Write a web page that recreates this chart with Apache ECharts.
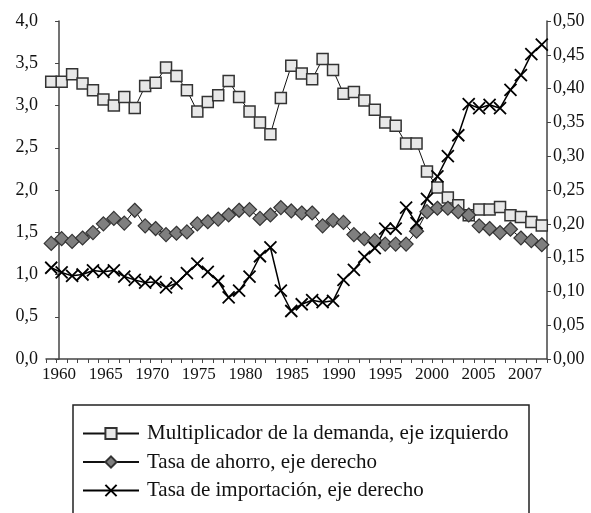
<!DOCTYPE html>
<html>
<head>
<meta charset="utf-8">
<script src="https://cdn.jsdelivr.net/npm/echarts@6/dist/echarts.min.js"></script>
<style>
  html, body { margin: 0; padding: 0; background: #fff; }
  #chart { width: 591px; height: 513px; }
</style>
</head>
<body>
<div id="chart"></div>
<script>
// años 1960 - 2007
var years = [];
for (var y = 1960; y <= 2007; y++) years.push(String(y));

// etiquetas del eje horizontal (tal como aparecen en la figura)
var yearLabels = ['1960', '1965', '1970', '1975', '1980', '1985', '1990', '1995', '2000', '2005', '2007'];

// multiplicador de la demanda, eje izquierdo
var multiplicador = [
  3.28, 3.28, 3.37, 3.26, 3.18, 3.07, 3.00, 3.10, 2.97, 3.23,
  3.27, 3.45, 3.35, 3.18, 2.93, 3.04, 3.12, 3.29, 3.10, 2.93,
  2.80, 2.66, 3.09, 3.47, 3.38, 3.31, 3.55, 3.42, 3.14, 3.16,
  3.06, 2.95, 2.80, 2.76, 2.55, 2.55, 2.22, 2.03, 1.91, 1.82,
  1.70, 1.77, 1.77, 1.80, 1.70, 1.68, 1.62, 1.58
];

// tasa de ahorro, eje derecho
var ahorro = [
  0.171, 0.178, 0.174, 0.179, 0.187, 0.200, 0.208, 0.201, 0.220, 0.197,
  0.193, 0.184, 0.186, 0.188, 0.200, 0.203, 0.207, 0.213, 0.220, 0.221,
  0.208, 0.213, 0.224, 0.219, 0.216, 0.216, 0.197, 0.205, 0.202, 0.184,
  0.178, 0.175, 0.170, 0.170, 0.170, 0.189, 0.218, 0.223, 0.223, 0.218,
  0.213, 0.197, 0.193, 0.187, 0.192, 0.179, 0.175, 0.169
];

// tasa de importación, eje derecho
var importacion = [
  0.135, 0.128, 0.123, 0.125, 0.131, 0.129, 0.131, 0.122, 0.117, 0.113,
  0.114, 0.106, 0.112, 0.127, 0.141, 0.129, 0.115, 0.091, 0.101, 0.122,
  0.152, 0.165, 0.101, 0.071, 0.081, 0.087, 0.084, 0.086, 0.117, 0.132,
  0.151, 0.164, 0.193, 0.193, 0.224, 0.201, 0.237, 0.270, 0.300, 0.331,
  0.377, 0.371, 0.376, 0.371, 0.398, 0.420, 0.451, 0.465
];

var serif = '"Liberation Serif", "DejaVu Serif", serif';
var axisColor = '#444';

function comma(v, d) {
  return v.toFixed(d).replace('.', ',');
}

var chart = echarts.init(document.getElementById('chart'));

var option = {
  backgroundColor: '#fff',
  animation: false,
  grid: { left: 46, right: 44, top: 21, bottom: 154 },
  legend: {
    orient: 'vertical',
    left: 77,
    top: 418,
    itemWidth: 56,
    itemHeight: 14,
    itemGap: 7.5,
    textStyle: { fontFamily: serif, fontSize: 21, color: '#111', lineHeight: 21, padding: [0, 0, 0, 3] },
    data: ['Multiplicador de la demanda, eje izquierdo', 'Tasa de ahorro, eje derecho', 'Tasa de importación, eje derecho']
  },
  graphic: [{
    type: 'rect',
    shape: { x: 73, y: 405, width: 456, height: 160 },
    style: { fill: 'none', stroke: '#222', lineWidth: 1.5 },
    silent: true
  }],
  xAxis: [
    {
      type: 'category',
      data: years,
      boundaryGap: true,
      axisLine: { lineStyle: { color: axisColor, width: 1.5 } },
      axisTick: { show: true, length: 4, interval: 0, lineStyle: { color: axisColor } },
      axisLabel: { show: false },
      splitLine: { show: false }
    },
    {
      // solo para las etiquetas de años
      type: 'value',
      position: 'bottom',
      min: -0.28,
      max: 10.47,
      axisLine: { show: false },
      axisTick: { show: false },
      splitLine: { show: false },
      axisLabel: {
        customValues: yearLabels.map(function (d, i) { return i; }),
        formatter: function (v) { return yearLabels[Math.round(v)]; },
        fontFamily: serif,
        fontSize: 17,
        color: '#111',
        margin: 7
      }
    }
  ],
  yAxis: [
    {
      type: 'value',
      min: 0,
      max: 4,
      interval: 0.5,
      position: 'left',
      axisLine: { show: true, lineStyle: { color: axisColor, width: 1.5 } },
      axisTick: { show: true, length: 4, lineStyle: { color: axisColor } },
      splitLine: { show: false },
      axisLabel: {
        formatter: function (v) { return comma(v, 1); },
        fontFamily: serif, fontSize: 18, color: '#111', margin: 8
      }
    },
    {
      type: 'value',
      min: 0,
      max: 0.5,
      interval: 0.05,
      position: 'right',
      axisLine: { show: true, lineStyle: { color: axisColor, width: 1.5 } },
      axisTick: { show: true, length: 4, lineStyle: { color: axisColor } },
      splitLine: { show: false },
      axisLabel: {
        formatter: function (v) { return comma(v, 2); },
        fontFamily: serif, fontSize: 18, color: '#111', margin: 6
      }
    }
  ],
  series: [
    {
      name: 'Multiplicador de la demanda, eje izquierdo',
      type: 'line',
      xAxisIndex: 0,
      yAxisIndex: 0,
      data: multiplicador,
      showAllSymbol: true,
      symbol: 'rect',
      symbolSize: 11,
      lineStyle: { color: '#111', width: 1 },
      itemStyle: { color: '#e8e8e8', borderColor: '#333', borderWidth: 1.5 }
    },
    {
      name: 'Tasa de ahorro, eje derecho',
      type: 'line',
      xAxisIndex: 0,
      yAxisIndex: 1,
      data: ahorro,
      showAllSymbol: true,
      symbol: 'diamond',
      symbolSize: 14,
      lineStyle: { color: '#111', width: 1 },
      itemStyle: { color: '#7f7f7f', borderColor: '#333', borderWidth: 1.2 }
    },
    {
      name: 'Tasa de importación, eje derecho',
      type: 'line',
      xAxisIndex: 0,
      yAxisIndex: 1,
      data: importacion,
      showAllSymbol: true,
      symbol: 'path://M0,0L10,10M0,10L10,0',
      symbolSize: 12,
      lineStyle: { color: '#000', width: 1.5 },
      itemStyle: { color: '#000', borderColor: '#000', borderWidth: 1.8 }
    }
  ]
};

chart.setOption(option);
</script>
</body>
</html>
